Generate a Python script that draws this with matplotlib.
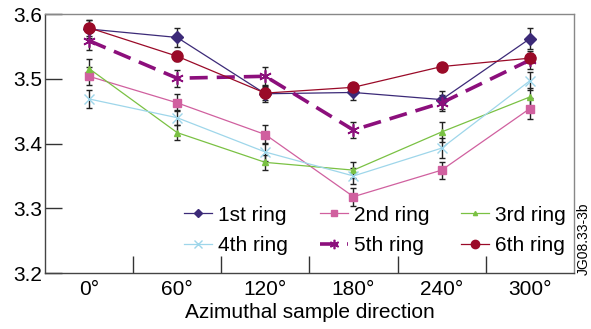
import numpy as np
import matplotlib
matplotlib.use("Agg")
import matplotlib.pyplot as plt

plt.rcParams['font.family'] = ['Liberation Sans', 'DejaVu Sans']

# azimuthal directions (categories)
directions = ['0°', '60°', '120°', '180°', '240°', '300°']

ring_labels = ['1st ring', '2nd ring', '3rd ring', '4th ring', '5th ring', '6th ring']

ring1 = [3.577, 3.564, 3.477, 3.479, 3.468, 3.562]
ring2 = [3.504, 3.463, 3.414, 3.318, 3.359, 3.454]
ring3 = [3.516, 3.417, 3.371, 3.359, 3.418, 3.472]
ring4 = [3.469, 3.440, 3.387, 3.350, 3.393, 3.497]
ring5 = [3.559, 3.501, 3.504, 3.421, 3.463, 3.529]
ring6 = [3.579, 3.535, 3.478, 3.487, 3.519, 3.532]

err1 = [0.014, 0.014, 0.012, 0.012, 0.014, 0.016]
err2 = [0.014, 0.013, 0.015, 0.014, 0.013, 0.016]
err3 = [0.014, 0.012, 0.012, 0.012, 0.016, 0.014]
err4 = [0.014, 0.012, 0.014, 0.012, 0.016, 0.014]
err5 = [0.014, 0.013, 0.014, 0.013, 0.012, 0.014]
err6 = [0.012, 0.008, 0.010, 0.006, 0.006, 0.008]

colors = ['#3c2a78', '#d0609f', '#7ac143', '#9ed6ea', '#8c0f7c', '#9a0a28']
markers = ['D', 's', '^', 'x', (6, 2, 0), 'o']
msizes = [6, 6, 4, 7, 9, 8]

series = [ring1, ring2, ring3, ring4, ring5, ring6]
errors = [err1, err2, err3, err4, err5, err6]

fig = plt.figure(figsize=(5.91, 3.29), dpi=100)
ax = fig.add_axes([0.076, 0.170, 0.895, 0.787])

x = np.arange(len(directions))
handles = {}
for vals, err in zip(series, errors):
    ax.errorbar(x, vals, yerr=err, fmt='none', ecolor='#222222',
                elinewidth=1.0, capsize=2.5, capthick=1.0, zorder=2)
for i, vals in enumerate(series):
    if i == 4:
        line, = ax.plot(x, vals, color=colors[i], lw=2.6, marker=markers[i],
                        ms=msizes[i], mew=1.2, dashes=(5, 2.5), zorder=3,
                        label=ring_labels[i])
    else:
        line, = ax.plot(x, vals, color=colors[i], lw=0.9, marker=markers[i],
                        ms=msizes[i], mew=1.0, zorder=3 + i * 0.1,
                        label=ring_labels[i])
    handles[ring_labels[i]] = line

ax.set_xlim(-0.5, 5.5)
ax.set_ylim(3.2, 3.6)
ax.set_xticks(x)
ax.set_xticklabels(directions)
ax.set_xticks(x[:-1] + 0.5, minor=True)
ax.tick_params(axis='x', which='major', length=0, labelsize=15, pad=5)
ax.tick_params(axis='x', which='minor', direction='in', length=12, width=1.0,
               color='#333333')
ax.set_yticks([3.2, 3.3, 3.4, 3.5, 3.6])
ax.set_yticklabels(['3.2', '3.3', '3.4', '3.5', '3.6'])
ax.tick_params(axis='y', direction='in', length=12, width=1.0, labelsize=15,
               color='#333333', pad=2)
ax.set_xlabel('Azimuthal sample direction', fontsize=15, labelpad=3)

for side in ['left', 'bottom']:
    ax.spines[side].set_color('#444444')
    ax.spines[side].set_linewidth(1.0)
for side in ['top', 'right']:
    ax.spines[side].set_color('#888888')
    ax.spines[side].set_linewidth(1.0)

order = ['1st ring', '4th ring', '2nd ring', '5th ring', '3rd ring', '6th ring']
ax.legend([handles[k] for k in order], order, ncol=3, frameon=False,
          loc='upper left', bbox_to_anchor=(0.263, 0.26), fontsize=15,
          borderpad=0, borderaxespad=0, handlelength=1.35, handletextpad=0.3,
          columnspacing=1.5, labelspacing=0.55, markerscale=0.75)

fig.text(0.987, 0.164, 'JG08.33-3b', rotation=90, fontsize=10,
         ha='center', va='bottom')

fig.savefig('out.png', dpi=100)
